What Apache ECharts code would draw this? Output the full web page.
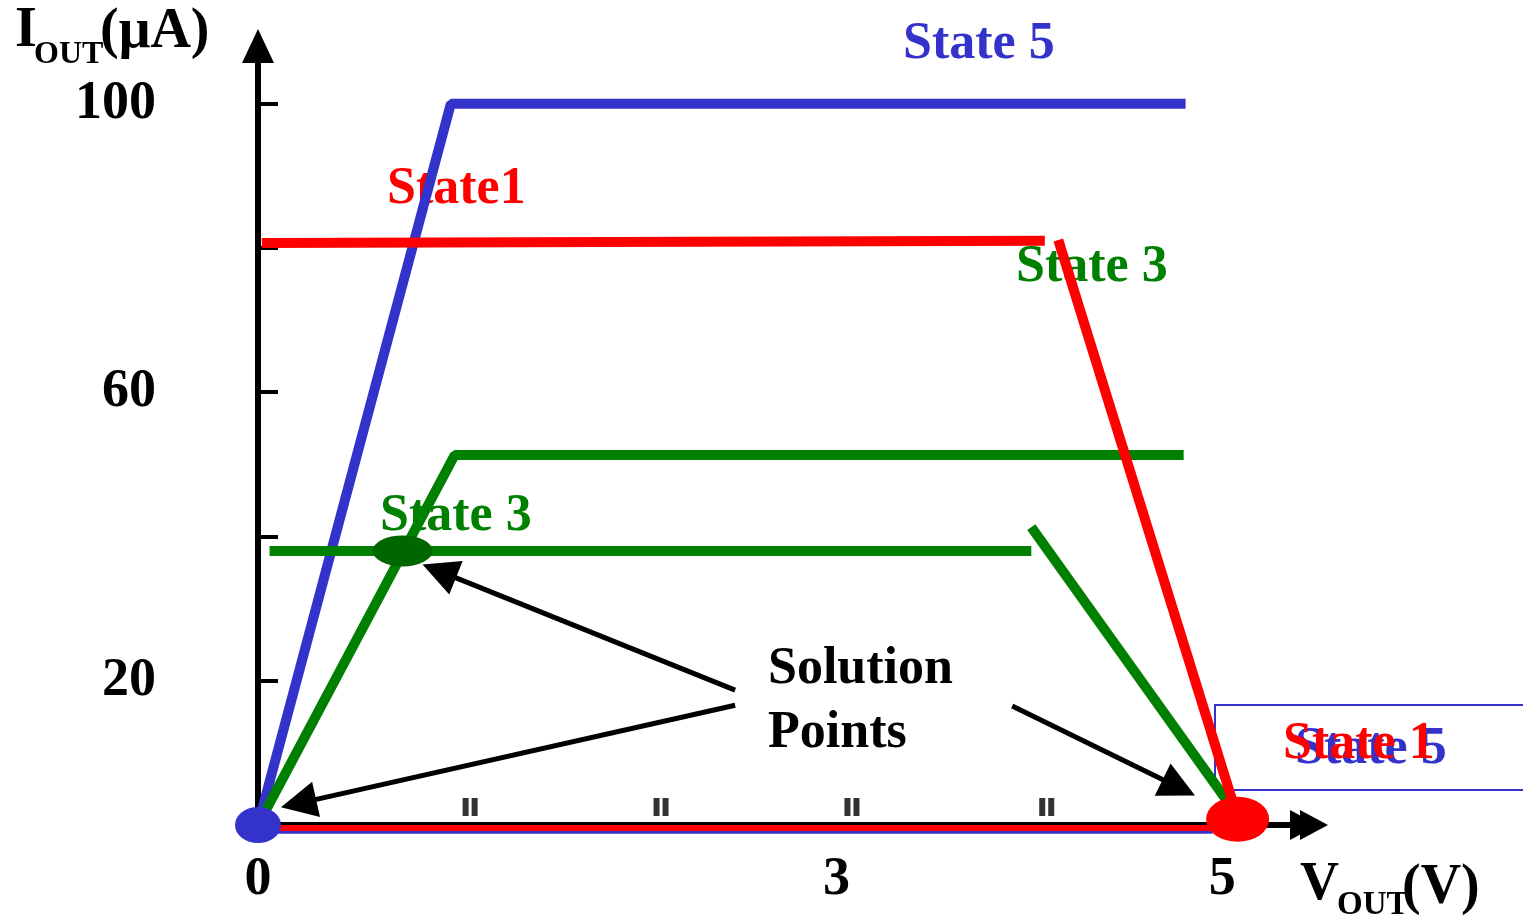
<!DOCTYPE html>
<html>
<head>
<meta charset="utf-8">
<title>Solution points</title>
<script src="https://cdn.jsdelivr.net/npm/echarts@6/dist/echarts.min.js"></script>
<style>
html, body { margin: 0; padding: 0; background: #fff; }
#main { width: 1523px; height: 916px; }
</style>
</head>
<body>
<div id="main"></div>
<script>
// axis ranges (V, uA)
var xMax = 5.45, yMax = 108;
var xLabels = [0, 3, 5];
var yLabels = [20, 60, 100];
var yTicks = [20, 40, 60, 80, 100];

// curves
var state5Rise = [[0, 0], [1.0, 100], [4.81, 100]];
var state5Base = [[0, -0.8], [4.95, -0.8]];
var state1Flat = [[0.02, 80.7], [4.08, 81.0]];
var state1Drop = [[4.15, 81.1], [5.08, 1.0]];
var state1Base = [[0, -0.4], [5.08, -0.4]];
var state3Rise = [[0, 0], [1.02, 51.3], [4.8, 51.3]];
var state3Flat = [[0.06, 38.0], [4.01, 38.0]];
var state3Drop = [[4.01, 41.3], [5.05, 2.4]];

// solution points
var blueDot = [[0, 0]];
var greenDot = [[0.75, 38.0]];
var redDot = [[5.08, 0.8]];

// small "||" marks above the V axis
var voltMarks = [[1.1, 2.5], [2.09, 2.5], [3.08, 2.5], [4.09, 2.5]];

// arrows from the "Solution Points" note
var pointerLines = [
    [[2.474, 18.7], [0.94, 35.2]],
    [[2.474, 16.6], [0.21, 3.0]],
    [[3.911, 16.5], [4.775, 5.2]]
];

var BLUE = '#3333CC', RED = '#FF0000', GREEN = '#008000';
var FONT = '"Liberation Serif", "Times New Roman", serif';

var chart = echarts.init(document.getElementById('main'));

function curve(data, color, width) {
    return {
        type: 'line',
        data: data,
        symbol: 'none',
        clip: false,
        silent: true,
        lineStyle: { color: color, width: width || 10, cap: 'butt' },
        z: 3
    };
}

function dot(data, color, size) {
    return {
        type: 'scatter',
        data: data,
        symbol: 'circle',
        symbolSize: size,
        itemStyle: { color: color, opacity: 1 },
        clip: false,
        silent: true,
        z: 5
    };
}

function txt(text, x, y, color, size) {
    return {
        type: 'text',
        x: x,
        y: y,
        z: 0,
        silent: true,
        style: {
            text: text,
            fill: color,
            font: 'bold ' + size + 'px ' + FONT,
            align: 'left',
            verticalAlign: 'middle'
        }
    };
}

var option = {
    animation: false,
    backgroundColor: '#fff',
    grid: { left: 258, right: 214, top: 46, bottom: 91, outerBoundsMode: 'none' },
    xAxis: {
        type: 'value',
        min: 0,
        max: xMax,
        axisLine: {
            onZero: true,
            // double head, like the ">>" in the picture
            symbol: ['none', 'path://M15 0L30 28L0 28Z M15 10L30 38L0 38Z'],
            symbolSize: [30, 38],
            lineStyle: { color: '#000', width: 6 }
        },
        axisTick: { show: false },
        splitLine: { show: false },
        axisLabel: {
            customValues: xLabels,
            margin: 28,
            color: '#000',
            fontSize: 54,
            fontWeight: 'bold',
            fontFamily: FONT
        }
    },
    yAxis: {
        type: 'value',
        min: 0,
        max: yMax,
        axisLine: {
            show: true,
            onZero: true,
            symbol: ['none', 'triangle'],
            symbolSize: [32, 34],
            lineStyle: { color: '#000', width: 6 }
        },
        axisTick: {
            show: true,
            inside: true,
            length: 20,
            customValues: yTicks,
            lineStyle: { color: '#000', width: 4 }
        },
        splitLine: { show: false },
        axisLabel: {
            customValues: yLabels,
            margin: 102,
            color: '#000',
            fontSize: 54,
            fontWeight: 'bold',
            fontFamily: FONT
        }
    },
    series: [
        curve(state5Base, BLUE, 6),
        curve(state1Base, RED, 6),
        curve(state5Rise, BLUE),
        curve(state1Flat, RED),
        curve(state3Rise, GREEN),
        curve(state3Flat, GREEN),
        curve(state3Drop, GREEN),
        curve(state1Drop, RED),
        {
            type: 'scatter',
            data: voltMarks,
            symbol: 'path://M0 0h6v18H0z M9 0h6v18H9z',
            symbolSize: [15, 18],
            itemStyle: { color: '#000' },
            silent: true,
            z: 4
        },
        {
            type: 'lines',
            coordinateSystem: 'cartesian2d',
            data: pointerLines.map(function (p) { return { coords: p }; }),
            symbol: ['none', 'triangle'],
            symbolSize: 36,
            lineStyle: { color: '#000', width: 5, opacity: 1 },
            silent: true,
            z: 4
        },
        dot(blueDot, BLUE, [46, 36]),
        dot(greenDot, '#006600', [60, 31]),
        dot(redDot, RED, [63, 45])
    ],
    graphic: [
        txt('I', 15, 32, '#000', 56),
        txt('OUT', 34, 55, '#000', 32),
        txt('(\u03bcA)', 100, 33, '#000', 56),
        txt('V', 1300, 885, '#000', 54),
        txt('OUT', 1337, 905, '#000', 33),
        txt('(V)', 1402, 889, '#000', 56),
        txt('State 5', 903, 45, BLUE, 52),
        txt('State1', 387, 190, RED, 52),
        txt('State 3', 1016, 268, GREEN, 52),
        txt('State 3', 380, 517, GREEN, 52),
        txt('Solution', 768, 670, '#000', 52),
        txt('Points', 768, 734, '#000', 52),
        {
            type: 'rect',
            z: 0,
            silent: true,
            shape: { x: 1215, y: 705, width: 330, height: 85 },
            style: { fill: 'none', stroke: BLUE, lineWidth: 2 }
        },
        txt('State 5', 1295, 750, BLUE, 52),
        txt('State 1', 1283, 745, RED, 52)
    ]
};

chart.setOption(option);
</script>
</body>
</html>
